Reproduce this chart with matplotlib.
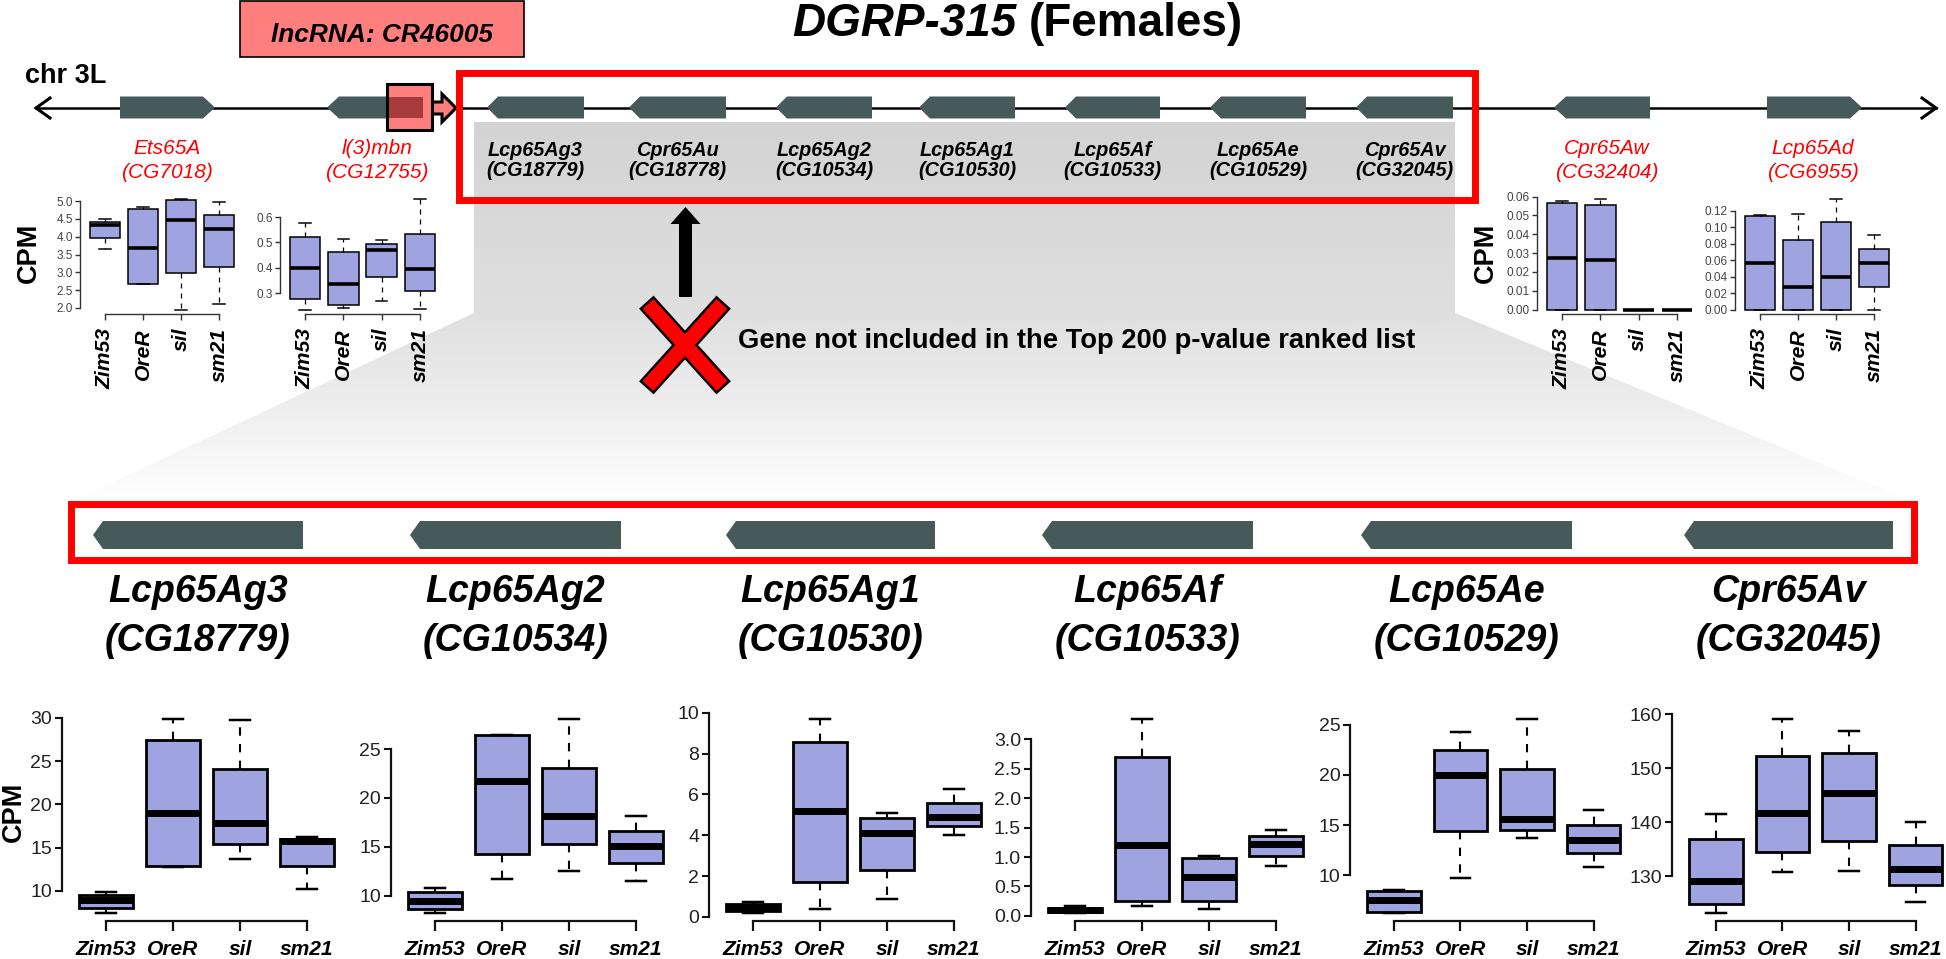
import numpy as np
import matplotlib
matplotlib.use('Agg')
import matplotlib.pyplot as plt
from matplotlib import font_manager
from matplotlib.patches import Polygon, Rectangle, FancyArrow
from matplotlib.colors import LinearSegmentedColormap

W, H = 1946, 959

_names = {f.name for f in font_manager.fontManager.ttflist}
HAS_NARROW = 'Liberation Sans Narrow' in _names
REG = ['Liberation Sans', 'DejaVu Sans']
NARROW = ['Liberation Sans Narrow', 'DejaVu Sans'] if HAS_NARROW else REG
NF = 1.0 if HAS_NARROW else 0.82
plt.rcParams['font.family'] = REG

# ------------------------------------------------------------------ data
strains = ['Zim53', 'OreR', 'sil', 'sm21']
title_strain = 'DGRP-315'
title_sex = '(Females)'
chrom_label = 'chr 3L'
lnc_label = 'lncRNA: CR46005'
note_text = 'Gene not included in the Top 200 p-value ranked list'
ylab = 'CPM'

cluster_genes = ['Lcp65Ag3', 'Cpr65Au', 'Lcp65Ag2', 'Lcp65Ag1', 'Lcp65Af', 'Lcp65Ae', 'Cpr65Av']
cluster_cg = ['CG18779', 'CG18778', 'CG10534', 'CG10530', 'CG10533', 'CG10529', 'CG32045']
flank_genes = ['Ets65A', 'l(3)mbn', 'Cpr65Aw', 'Lcp65Ad']
flank_cg = ['CG7018', 'CG12755', 'CG32404', 'CG6955']
detail_genes = ['Lcp65Ag3', 'Lcp65Ag2', 'Lcp65Ag1', 'Lcp65Af', 'Lcp65Ae', 'Cpr65Av']
detail_cg = ['CG18779', 'CG10534', 'CG10530', 'CG10533', 'CG10529', 'CG32045']

# top (flanking genes) boxplot statistics
ets65a_lo = [3.65, 2.68, 1.95, 2.10]
ets65a_q1 = [3.97, 2.68, 2.97, 3.15]
ets65a_med = [4.33, 3.68, 4.48, 4.22]
ets65a_q3 = [4.42, 4.77, 5.02, 4.60]
ets65a_hi = [4.50, 4.83, 5.05, 4.97]
ets65a_ticks = [2.0, 2.5, 3.0, 3.5, 4.0, 4.5, 5.0]

l3mbn_lo = [0.235, 0.242, 0.270, 0.238]
l3mbn_q1 = [0.278, 0.252, 0.365, 0.310]
l3mbn_med = [0.400, 0.337, 0.472, 0.395]
l3mbn_q3 = [0.522, 0.462, 0.495, 0.535]
l3mbn_hi = [0.578, 0.515, 0.510, 0.670]
l3mbn_ticks = [0.3, 0.4, 0.5, 0.6]

cpr65aw_lo = [0.0, 0.0, 0.0, 0.0]
cpr65aw_q1 = [0.0, 0.0, 0.0, 0.0]
cpr65aw_med = [0.0272, 0.0265, 0.0, 0.0]
cpr65aw_q3 = [0.0565, 0.0557, 0.0, 0.0]
cpr65aw_hi = [0.0578, 0.0585, 0.0, 0.0]
cpr65aw_ticks = [0.0, 0.01, 0.02, 0.03, 0.04, 0.05, 0.06]

lcp65ad_lo = [0.0, 0.0, 0.0, 0.0]
lcp65ad_q1 = [0.0, 0.0, 0.0, 0.028]
lcp65ad_med = [0.057, 0.027, 0.040, 0.057]
lcp65ad_q3 = [0.114, 0.085, 0.107, 0.074]
lcp65ad_hi = [0.115, 0.116, 0.134, 0.091]
lcp65ad_ticks = [0.0, 0.02, 0.04, 0.06, 0.08, 0.10, 0.12]

# bottom (cluster genes) boxplot statistics
lcp65ag3_lo = [7.4, 12.8, 13.65, 10.2]
lcp65ag3_q1 = [8.0, 12.9, 15.4, 12.9]
lcp65ag3_med = [8.9, 19.0, 17.8, 15.7]
lcp65ag3_q3 = [9.55, 27.5, 24.1, 16.0]
lcp65ag3_hi = [9.9, 29.9, 29.8, 16.2]
lcp65ag3_ticks = [10, 15, 20, 25, 30]

lcp65ag2_lo = [8.2, 11.7, 12.5, 11.5]
lcp65ag2_q1 = [8.6, 14.3, 15.3, 13.3]
lcp65ag2_med = [9.5, 21.7, 18.1, 15.1]
lcp65ag2_q3 = [10.4, 26.4, 23.1, 16.6]
lcp65ag2_hi = [10.75, 26.4, 28.1, 18.1]
lcp65ag2_ticks = [10, 15, 20, 25]

lcp65ag1_lo = [0.18, 0.37, 0.90, 4.00]
lcp65ag1_q1 = [0.30, 1.70, 2.28, 4.45]
lcp65ag1_med = [0.45, 5.20, 4.13, 4.90]
lcp65ag1_q3 = [0.62, 8.58, 4.83, 5.56]
lcp65ag1_hi = [0.75, 9.70, 5.07, 6.25]
lcp65ag1_ticks = [0, 2, 4, 6, 8, 10]

lcp65af_lo = [0.045, 0.17, 0.11, 0.84]
lcp65af_q1 = [0.06, 0.255, 0.255, 1.02]
lcp65af_med = [0.10, 1.20, 0.66, 1.22]
lcp65af_q3 = [0.14, 2.70, 0.98, 1.35]
lcp65af_hi = [0.17, 3.35, 1.02, 1.46]
lcp65af_ticks = [0.0, 0.5, 1.0, 1.5, 2.0, 2.5, 3.0]

lcp65ae_lo = [6.2, 9.7, 13.7, 10.8]
lcp65ae_q1 = [6.35, 14.4, 14.5, 12.2]
lcp65ae_med = [7.5, 20.0, 15.6, 13.5]
lcp65ae_q3 = [8.4, 22.5, 20.6, 15.0]
lcp65ae_hi = [8.5, 24.3, 25.6, 16.5]
lcp65ae_ticks = [10, 15, 20, 25]

cpr65av_lo = [123.1, 130.8, 131.0, 125.1]
cpr65av_q1 = [124.8, 134.5, 136.5, 128.3]
cpr65av_med = [129.1, 141.7, 145.4, 131.4]
cpr65av_q3 = [136.8, 152.2, 152.8, 135.7]
cpr65av_hi = [141.6, 159.2, 156.9, 140.1]
cpr65av_ticks = [130, 140, 150, 160]

# ------------------------------------------------------------------ styles
BOX_C = '#9FA3E0'
GENE_C = '#465A5A'
SALMON = '#FF7F7F'

fig = plt.figure(figsize=(W / 100, H / 100), dpi=100)
ov = fig.add_axes([0, 0, 1, 1])
ov.axis('off')

# gradient "zoom" shading
cmap = LinearSegmentedColormap.from_list(
    'g', [(0, '#d3d3d3'), (0.2, '#d8d8d8'), (0.5, '#dfdfdf'), (0.8, '#f1f1f1'), (1.0, '#ffffff')])
shade = Polygon([(474, 122), (1455, 122), (1455, 313), (1914, 502), (71, 502), (474, 313)],
                closed=True, fc='none', ec='none')
ov.add_patch(shade)
im = ov.imshow(np.linspace(0, 1, 400).reshape(-1, 1), extent=(71, 1914, 502, 122),
               cmap=cmap, aspect='auto', zorder=1, interpolation='bilinear')
im.set_clip_path(shade)
ov.set_xlim(0, W)
ov.set_ylim(H, 0)

# chromosome line
ov.plot([36, 1936], [108, 108], color='black', lw=1.8, zorder=2)
ov.plot([50, 36, 50], [98, 108, 118], color='black', lw=2.2, zorder=2,
        solid_joinstyle='miter')
ov.plot([1922, 1936, 1922], [98, 108, 118], color='black', lw=2.2, zorder=2,
        solid_joinstyle='miter')


def gene(x0, x1, yc, h, d, tip=11):
    t, b = yc - h / 2, yc + h / 2
    if d == 'L':
        pts = [(x0, yc), (x0 + tip, t), (x1, t), (x1, b), (x0 + tip, b)]
    else:
        pts = [(x1, yc), (x1 - tip, t), (x0, t), (x0, b), (x1 - tip, b)]
    ov.add_patch(Polygon(pts, closed=True, fc=GENE_C, ec='none', zorder=3))


top_gene_x = [(120, 215, 'R'), (327, 423, 'L'), (1554, 1650, 'L'), (1767, 1862, 'R')]
for x0, x1, d in top_gene_x:
    gene(x0, x1, 107.5, 22, d, tip=12)
cluster_x = [(487, 584), (629, 726), (776, 872), (919, 1015), (1065, 1160), (1210, 1306), (1356, 1453)]
for x0, x1 in cluster_x:
    gene(x0, x1, 107.5, 22, 'L', tip=11)

# lncRNA marker on line
ov.add_patch(Polygon([(430, 102), (442, 102), (442, 94), (456, 108), (442, 122), (442, 114), (430, 114)],
                     closed=True, fc=SALMON, ec='black', lw=2.2, zorder=4))
ov.add_patch(Rectangle((387, 84), 45, 46, fc=SALMON, ec='none', zorder=5))
ov.add_patch(Rectangle((387, 97), 36, 21, fc='#A83C3C', ec='none', zorder=6))
ov.add_patch(Rectangle((387, 84), 45, 46, fc='none', ec='black', lw=2.2, zorder=7))

# lncRNA label box
ov.add_patch(Rectangle((240, 1), 284, 56, fc=SALMON, ec='black', lw=1.2, zorder=4))
ov.text(382, 42, lnc_label, ha='center', va='baseline', fontsize=23 * NF, family=NARROW,
        weight='bold', style='italic', zorder=5)

# title
ov.text(1016, 36, title_strain, ha='right', va='baseline', fontsize=33, weight='bold',
        style='italic', zorder=5)
ov.text(1029, 36, title_sex, ha='left', va='baseline', fontsize=33, weight='bold', zorder=5)
ov.text(25, 83, chrom_label, ha='left', va='baseline', fontsize=19.5, weight='bold', zorder=5)

# flanking gene labels (red)
flank_x = [167, 377, 1607, 1813]
for x, g, cg in zip(flank_x, flank_genes, flank_cg):
    ov.text(x, 148.5, g, ha='center', va='center', fontsize=15, style='italic', color='red')
    ov.text(x, 172, '(' + cg + ')', ha='center', va='center', fontsize=15, style='italic',
            color='red')

# cluster labels in grey band
for (x0, x1), g, cg in zip(cluster_x, cluster_genes, cluster_cg):
    xc = (x0 + x1) / 2
    ov.text(xc, 150, g, ha='center', va='center', fontsize=17.5 * NF, family=NARROW,
            weight='bold', style='italic', zorder=5)
    ov.text(xc, 170, '(' + cg + ')', ha='center', va='center', fontsize=17.5 * NF,
            family=NARROW, weight='bold', style='italic', zorder=5)

# red boxes
ov.add_patch(Rectangle((459, 73), 1016, 127, fc='none', ec='red', lw=5.0, zorder=8))
ov.add_patch(Rectangle((71, 504), 1843, 56, fc='none', ec='red', lw=5.0, zorder=8))

# detail genes in lower box
detail_x = [(93, 303), (410, 621), (726, 935), (1042, 1253), (1361, 1572), (1684, 1893)]
for x0, x1 in detail_x:
    gene(x0, x1, 535, 28, 'L', tip=10)
for (x0, x1), g, cg in zip(detail_x, detail_genes, detail_cg):
    xc = (x0 + x1) / 2
    ov.text(xc, 602, g, ha='center', va='baseline', fontsize=33 * NF, family=NARROW,
            weight='bold', style='italic')
    ov.text(xc, 651, '(' + cg + ')', ha='center', va='baseline', fontsize=33 * NF,
            family=NARROW, weight='bold', style='italic')

# arrow and X mark
ov.add_patch(FancyArrow(685.5, 297, 0, -90, width=13, head_width=30, head_length=17,
                        length_includes_head=True, fc='black', ec='none', zorder=5))
xs = [((648, 304), (722, 386)), ((722, 304), (648, 386))]
for (xa, ya), (xb, yb) in xs:
    dx, dy = xb - xa, yb - ya
    n = np.hypot(dx, dy)
    ex, ey = 2.5 * dx / n, 2.5 * dy / n
    ov.plot([xa - ex, xb + ex], [ya - ey, yb + ey], color='black', lw=14,
            solid_capstyle='butt', zorder=5)
for (xa, ya), (xb, yb) in xs:
    ov.plot([xa, xb], [ya, yb], color='red', lw=10.5, solid_capstyle='butt', zorder=6)
ov.text(738, 341, note_text, ha='left', va='center', fontsize=24 * NF, family=NARROW,
        weight='bold', zorder=6)

# CPM labels
for x, y in [(29, 253), (1486, 253), (14, 812)]:
    ov.text(x, y, ylab, ha='center', va='center', rotation=90, fontsize=19.5, weight='bold')


# ------------------------------------------------------------------ boxplots
def box_panel(lo, q1, med, q3, hi, ticks, fmt, c1, sp, top, bot, small):
    dmin, dmax = min(lo), max(hi)
    pad = 0.04 * (dmax - dmin)
    y0, y1 = dmin - pad, dmax + pad
    left = c1 - 0.66 * sp
    right = c1 + 3.66 * sp
    ax = fig.add_axes([left / W, 1 - bot / H, (right - left) / W, (bot - top) / H])
    ax.patch.set_visible(False)
    stats = [dict(whislo=lo[i], q1=q1[i], med=med[i], q3=q3[i], whishi=hi[i], fliers=[])
             for i in range(len(lo))]
    if small:
        lwb, lwm, lww, spc, tl = 1.1, 2.6, 0.9, '#333333', '#444444'
    else:
        lwb, lwm, lww, spc, tl = 2.0, 5.0, 1.5, '#111111', '#222222'
    ax.bxp(stats, positions=[1, 2, 3, 4], widths=0.8, capwidths=0.3, patch_artist=True,
           showfliers=False,
           boxprops=dict(facecolor=BOX_C, edgecolor='black', linewidth=lwb),
           medianprops=dict(color='black', linewidth=lwm, solid_capstyle='butt'),
           whiskerprops=dict(color='black', linewidth=lww, linestyle=(0, (4, 4))),
           capprops=dict(color='black', linewidth=lww * 1.2))
    ax.set_xlim(0.34, 4.66)
    ax.set_ylim(y0, y1)
    for s in ['top', 'right']:
        ax.spines[s].set_visible(False)
    for s in ['left', 'bottom']:
        ax.spines[s].set_color(spc)
        ax.spines[s].set_linewidth(1.0 if small else 1.6)
    ax.spines['left'].set_bounds(ticks[0], ticks[-1])
    ax.spines['bottom'].set_bounds(1, 4)
    ax.set_yticks(ticks)
    ax.set_yticklabels([fmt.format(t) for t in ticks])
    ax.set_xticks([1, 2, 3, 4])
    if small:
        ax.tick_params(axis='y', length=3.5, width=1.0, color=spc, labelsize=8.5, labelcolor=tl,
                       pad=1.5)
        ax.tick_params(axis='x', length=4, width=1.0, color=spc, pad=6)
        ax.set_xticklabels(strains, rotation=90, fontsize=15.2, weight='bold', style='italic',
                           va='top', ha='center')
    else:
        ax.tick_params(axis='y', length=5, width=1.5, color=spc, labelsize=14, labelcolor=tl,
                       pad=2)
        ax.tick_params(axis='x', length=7, width=1.6, color=spc, pad=7)
        ax.set_xticklabels(strains, fontsize=18.5 * NF, family=NARROW, weight='bold',
                           style='italic')
    return ax


TOP_T, TOP_B = 195, 314
BOT_T, BOT_B = 711, 921

box_panel(ets65a_lo, ets65a_q1, ets65a_med, ets65a_q3, ets65a_hi, ets65a_ticks, '{:.1f}',
          105, 38, TOP_T, TOP_B, True)
box_panel(l3mbn_lo, l3mbn_q1, l3mbn_med, l3mbn_q3, l3mbn_hi, l3mbn_ticks, '{:.1f}',
          305, 38.3, TOP_T, TOP_B, True)
box_panel(cpr65aw_lo, cpr65aw_q1, cpr65aw_med, cpr65aw_q3, cpr65aw_hi, cpr65aw_ticks, '{:.2f}',
          1562, 38.3, TOP_T, TOP_B, True)
box_panel(lcp65ad_lo, lcp65ad_q1, lcp65ad_med, lcp65ad_q3, lcp65ad_hi, lcp65ad_ticks, '{:.2f}',
          1760, 38, TOP_T, TOP_B, True)

box_panel(lcp65ag3_lo, lcp65ag3_q1, lcp65ag3_med, lcp65ag3_q3, lcp65ag3_hi, lcp65ag3_ticks,
          '{:d}', 106, 67, BOT_T, BOT_B, False)
box_panel(lcp65ag2_lo, lcp65ag2_q1, lcp65ag2_med, lcp65ag2_q3, lcp65ag2_hi, lcp65ag2_ticks,
          '{:d}', 435, 67, BOT_T, BOT_B, False)
box_panel(lcp65ag1_lo, lcp65ag1_q1, lcp65ag1_med, lcp65ag1_q3, lcp65ag1_hi, lcp65ag1_ticks,
          '{:d}', 753, 67, BOT_T, BOT_B, False)
box_panel(lcp65af_lo, lcp65af_q1, lcp65af_med, lcp65af_q3, lcp65af_hi, lcp65af_ticks,
          '{:.1f}', 1075, 67, BOT_T, BOT_B, False)
box_panel(lcp65ae_lo, lcp65ae_q1, lcp65ae_med, lcp65ae_q3, lcp65ae_hi, lcp65ae_ticks,
          '{:d}', 1394, 66.5, BOT_T, BOT_B, False)
box_panel(cpr65av_lo, cpr65av_q1, cpr65av_med, cpr65av_q3, cpr65av_hi, cpr65av_ticks,
          '{:d}', 1716, 66.5, BOT_T, BOT_B, False)

fig.savefig('out.png', dpi=100)
